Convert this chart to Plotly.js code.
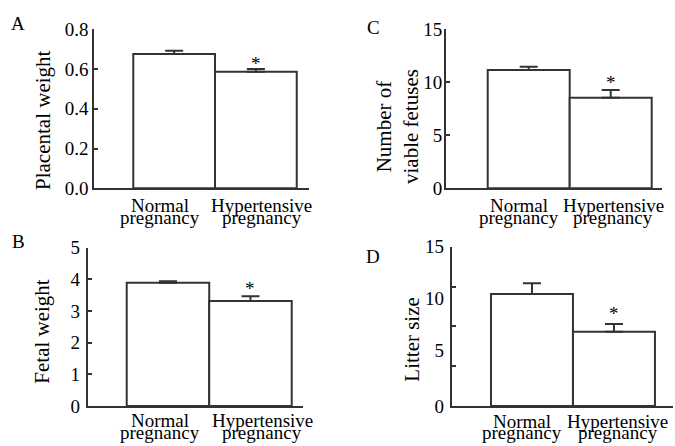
<!DOCTYPE html>
<html>
<head>
<meta charset="utf-8">
<script src="https://cdn.plot.ly/plotly-3.0.1.min.js"></script>
<style>
html,body{margin:0;padding:0;background:#fff;}
#chart{width:675px;height:446px;}
</style>
</head>
<body>
<div id="chart"></div>
<script>
// ---- data ----
const groups = ["Normal pregnancy", "Hypertensive pregnancy"];
const placentalWeight = [0.676, 0.587];
const placentalWeightSE = [0.016, 0.013];
const fetalWeight = [3.89, 3.32];
const fetalWeightSE = [0.05, 0.15];
const viableFetuses = [11.15, 8.55];
const viableFetusesSE = [0.31, 0.72];
const litterSize = [10.55, 7.0];
const litterSizeSE = [1.0, 0.72];
const significant = [false, true];
const panelLetters = ["A", "B", "C", "D"];
const yTitles = ["Placental weight", "Fetal weight", "Number of<br>viable fetuses", "Litter size"];
const ticksA = ["0.0", "0.2", "0.4", "0.6", "0.8"];
const ticksB = ["0", "1", "2", "3", "4", "5"];
const ticksC = ["0", "5", "10", "15"];
const ticksD = ["0", "5", "10", "15"];

// ---- styling / layout ----
const FONT = "'Liberation Serif', 'Times New Roman', serif";
const INK = "#000";
const LINE = "#333";
const W = 675, H = 446;

const panels = [
  {n: 1, vals: placentalWeight, se: placentalWeightSE, xd: [94.3, 309], yd: [29.3, 188.3], xr: [-0.977, 1.65], yr: [0, 0.8],
   tv: ticksA.map(Number), tt: ticksA, title: yTitles[0], tpos: [43, 120], letter: [18.3, 23.3],
   lx: [-14, 6], ly: [-4.4, -16.7], star: -7, stand: 0},
  {n: 2, vals: fetalWeight, se: fetalWeightSE, xd: [87.7, 302.7], yd: [247.7, 406], xr: [-0.973, 1.633], yr: [0, 5],
   tv: ticksB.map(Number), tt: ticksB, title: yTitles[1], tpos: [41.7, 331], letter: [18.5, 241],
   lx: [-8, 12], ly: [-1.7, -14], star: -4.7, stand: 2},
  {n: 3, vals: viableFetuses, se: viableFetusesSE, xd: [446, 661.7], yd: [29.3, 188.3], xr: [-1.0085, 1.622], yr: [0, 15],
   tv: ticksC.map(Number), tt: ticksC, title: yTitles[2], tpos: [397, 127], letter: [373.3, 27.5],
   lx: [-10, 2.5], ly: [-4.7, -16.7], star: -5, stand: -2},
  {n: 4, vals: litterSize, se: litterSizeSE, xd: [451.7, 673], yd: [246.7, 406], xr: [-0.979, 1.72], yr: [0, 15],
   tv: [0, 5.25, 10.15, 15], tt: ticksD, title: yTitles[3], tpos: [411.7, 339], letter: [373.3, 256],
   lx: [-10, 4], ly: [-2.7, -14], star: -2.3, stand: 2}
];

const data = [];
const layout = {
  width: W, height: H,
  margin: {l: 0, r: 0, t: 0, b: 0},
  paper_bgcolor: "#fff", plot_bgcolor: "#fff",
  showlegend: false,
  bargap: 0,
  font: {family: FONT, color: INK, size: 19},
  annotations: []
};

panels.forEach((p, idx) => {
  const xa = "x" + p.n, ya = "y" + p.n;
  data.push({
    type: "bar",
    x: groups.map((g, i) => i),
    y: p.vals,
    xaxis: xa, yaxis: ya,
    marker: {color: "#fff", line: {color: LINE, width: 2}},
    error_y: {type: "data", symmetric: false, array: p.se, arrayminus: p.se.map(() => 0),
              color: LINE, thickness: 2, width: 9},
    hoverinfo: "skip"
  });
  layout["xaxis" + p.n] = {
    domain: [p.xd[0] / W, p.xd[1] / W], range: p.xr, anchor: ya,
    showline: true, linecolor: LINE, linewidth: 2,
    showgrid: false, zeroline: false, ticks: "", showticklabels: false, fixedrange: true
  };
  layout["yaxis" + p.n] = {
    domain: [1 - p.yd[1] / H, 1 - p.yd[0] / H], range: p.yr, anchor: xa,
    showline: true, linecolor: LINE, linewidth: 2,
    showgrid: false, zeroline: false,
    tickmode: "array", tickvals: p.tv, ticktext: p.tt,
    ticks: p.n === 4 ? "" : "inside", ticklen: 4, tickwidth: 2, tickcolor: LINE,
    ticklabelstandoff: p.stand,
    tickfont: {family: FONT, size: 19, color: INK}, fixedrange: true
  };
  // category labels (two lines each)
  groups.forEach((g, i) => {
    const words = g.split(" ");
    words.forEach((w, k) => {
      layout.annotations.push({
        xref: xa, yref: ya + " domain", x: i, y: 0, xanchor: "center", yanchor: "top",
        xshift: p.lx[i], yshift: p.ly[k], text: w, showarrow: false,
        font: {family: FONT, size: 19, color: INK}
      });
    });
    if (significant[i]) {
      layout.annotations.push({
        xref: xa, yref: ya, x: i, y: p.vals[i] + p.se[i], xanchor: "center", yanchor: "bottom",
        yshift: p.star, text: "*", showarrow: false, font: {family: FONT, size: 19, color: INK}
      });
    }
  });
  // y title
  layout.annotations.push({
    xref: "paper", yref: "paper", x: p.tpos[0] / W, y: 1 - p.tpos[1] / H,
    xanchor: "center", yanchor: "middle", textangle: -90, text: p.title, showarrow: false,
    font: {family: FONT, size: 21, color: INK}
  });
  // panel letter
  layout.annotations.push({
    xref: "paper", yref: "paper", x: p.letter[0] / W, y: 1 - p.letter[1] / H,
    xanchor: "center", yanchor: "middle", text: panelLetters[idx], showarrow: false,
    font: {family: FONT, size: 19, color: INK}
  });
});

// Panel D tick marks (drawn at quarter positions as in the original figure)
layout.yaxis5 = {
  overlaying: "y4", anchor: "x4", side: "left", range: [0, 15],
  tickmode: "array", tickvals: [0, 3.75, 7.5, 11.25, 15],
  ticks: "inside", ticklen: 4, tickwidth: 2, tickcolor: LINE,
  showticklabels: false, showline: false, showgrid: false, zeroline: false, fixedrange: true
};
data.push({type: "scatter", x: [], y: [], xaxis: "x4", yaxis: "y5", hoverinfo: "skip", showlegend: false});

Plotly.newPlot("chart", data, layout, {staticPlot: true, displayModeBar: false});
</script>
</body>
</html>
